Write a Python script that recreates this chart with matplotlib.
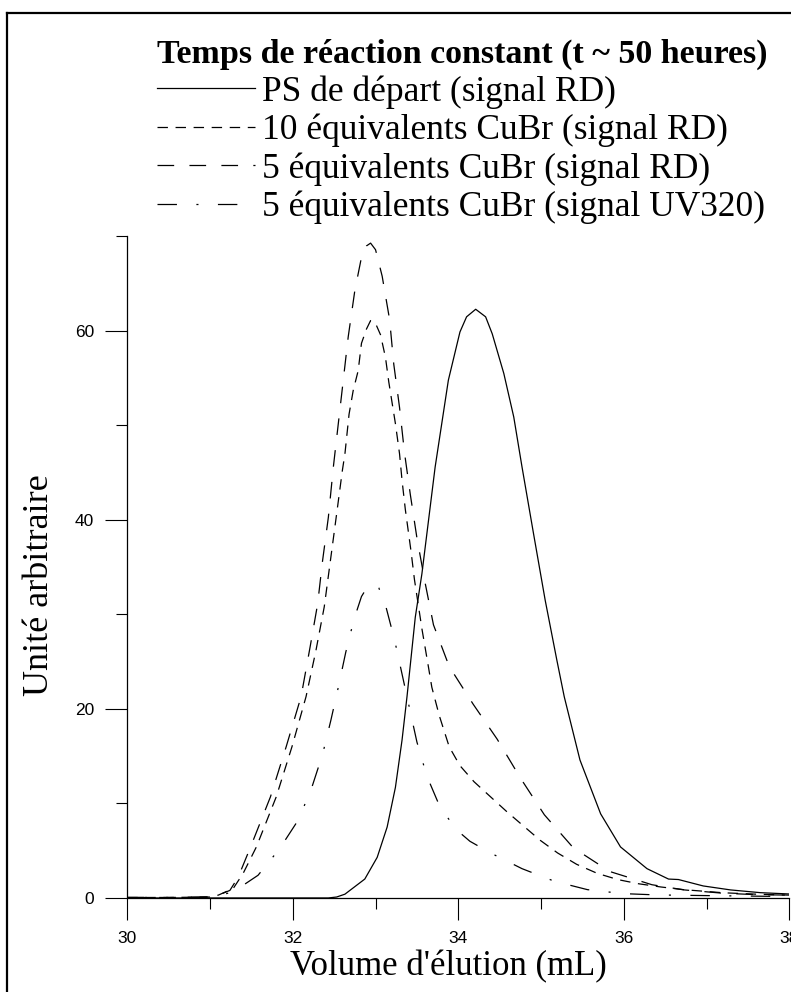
import matplotlib
matplotlib.use("Agg")
import matplotlib.pyplot as plt
from matplotlib.lines import Line2D

# volume d'elution (mL) / unite arbitraire
x_ps = [30.0, 32.0, 32.43, 32.53, 32.63, 32.87, 33.02, 33.14, 33.24, 33.32, 33.38, 33.48, 33.56,
        33.72, 33.88, 34.02, 34.10, 34.21, 34.33, 34.41, 34.55, 34.67, 34.77, 34.91, 35.05,
        35.19, 35.28, 35.47, 35.72, 35.96, 36.28, 36.54, 36.66, 36.96, 37.29, 37.65, 38.0]
y_ps = [0, 0, 0.0, 0.1, 0.4, 2.0, 4.3, 7.5, 11.7, 16.7, 21.3, 29.7, 34.3,
        45.6, 54.8, 59.9, 61.5, 62.3, 61.5, 59.7, 55.5, 50.9, 45.6, 38.5, 31.5,
        25.2, 21.3, 14.6, 8.9, 5.4, 3.1, 2.0, 1.95, 1.27, 0.85, 0.56, 0.42]

x_10eq = [30.0, 30.5, 31.0, 31.1, 31.28, 31.40, 31.56, 31.80, 31.99, 32.16, 32.28, 32.38, 32.45,
          32.52, 32.60, 32.63, 32.68, 32.73, 32.79, 32.83, 32.89, 32.94, 33.00, 33.06, 33.12,
          33.16, 33.20, 33.24, 33.29, 33.32, 33.36, 33.43, 33.47, 33.56, 33.64, 33.68, 33.77,
          33.89, 34.02, 34.19, 34.39, 34.59, 34.79, 34.99, 35.20, 35.43, 35.68, 35.93, 36.18,
          36.45, 36.72, 37.2, 37.6, 38.0]
y_10eq = [0.05, 0.05, 0.1, 0.3, 1.0, 2.6, 5.4, 10.7, 16.0, 21.3, 26.2, 30.8, 35.4,
          40.0, 45.3, 47.0, 51.2, 53.7, 55.8, 58.7, 60.2, 61.1, 60.8, 59.6, 57.2,
          54.6, 52.4, 50.2, 47.0, 44.2, 41.1, 36.6, 33.7, 28.5, 24.4, 22.3, 19.3,
          16.0, 14.0, 12.3, 10.7, 9.1, 7.6, 6.1, 4.76, 3.56, 2.6, 1.94, 1.5,
          1.16, 0.88, 0.55, 0.4, 0.3]

x_5eq = [30.0, 30.5, 31.0, 31.1, 31.24, 31.34, 31.49, 31.73, 31.92, 32.10, 32.21, 32.30, 32.36,
         32.43, 32.49, 32.55, 32.61, 32.67, 32.75, 32.83, 32.89, 32.94, 33.00, 33.08, 33.17,
         33.22, 33.29, 33.35, 33.42, 33.50, 33.60, 33.70, 33.89, 34.18, 34.47, 34.75, 35.04,
         35.39, 35.83, 36.34, 36.73, 37.2, 37.6, 38.0]
y_5eq = [0.05, 0.05, 0.1, 0.3, 0.8, 2.2, 5.4, 10.7, 16.0, 21.3, 26.6, 31.1, 35.7,
         40.3, 45.6, 50.2, 54.8, 59.4, 64.3, 67.8, 69.0, 69.3, 68.6, 65.8, 61.2,
         56.5, 51.9, 47.1, 42.7, 38.1, 33.3, 28.9, 24.5, 20.5, 16.8, 12.7, 8.8,
         5.3, 2.8, 1.4, 0.85, 0.5, 0.35, 0.3]

x_uv = [30.0, 30.5, 31.0, 31.1, 31.29, 31.58, 31.84, 32.07, 32.23, 32.36, 32.46, 32.55, 32.64,
        32.74, 32.83, 32.90, 32.97, 33.04, 33.12, 33.23, 33.32, 33.41, 33.50, 33.62, 33.78,
        33.98, 34.14, 34.39, 34.77, 35.16, 35.56, 35.99, 36.40, 37.0, 37.5, 38.0]
y_uv = [0.05, 0.05, 0.1, 0.2, 0.7, 2.4, 5.2, 8.3, 11.7, 15.2, 18.8, 22.3, 26.0,
        29.5, 31.9, 32.9, 33.2, 32.8, 31.0, 27.3, 23.7, 20.1, 16.5, 12.9, 9.6,
        7.2, 6.0, 4.76, 3.1, 1.77, 0.88, 0.46, 0.32, 0.25, 0.2, 0.15]

labels = ["PS de départ (signal RD)",
          "10 équivalents CuBr (signal RD)",
          "5 équivalents CuBr (signal RD)",
          "5 équivalents CuBr (signal UV320)"]

plt.rcParams['lines.scale_dashes'] = False
serif = ['Liberation Serif', 'DejaVu Serif']
sans = ['Liberation Sans', 'DejaVu Sans']

fig = plt.figure(figsize=(7.91, 9.92), dpi=100)
ax = fig.add_axes([0.1609, 0.0948, 0.8370, 0.6668])

lw = 0.9
ax.plot(x_ps, y_ps, color='black', lw=lw, label=labels[0])
ax.plot(x_10eq, y_10eq, color='black', lw=lw, linestyle=(0, (7.5, 5.5)), label=labels[1])
ax.plot(x_5eq, y_5eq, color='black', lw=lw, linestyle=(0, (12, 11)), label=labels[2])
ax.plot(x_uv, y_uv, color='black', lw=lw, linestyle=(0, (14, 14, 1.5, 14)), label=labels[3])

ax.set_xlim(30, 38)
ax.set_ylim(0, 70)
ax.set_xticks([30, 32, 34, 36, 38])
ax.set_xticks([31, 33, 35, 37], minor=True)
ax.set_yticks([0, 20, 40, 60])
ax.set_yticks([10, 30, 50, 70], minor=True)
for s in ['top', 'right']:
    ax.spines[s].set_visible(False)
for s in ['left', 'bottom']:
    ax.spines[s].set_linewidth(0.9)
ax.tick_params(which='major', direction='out', length=16, width=0.8, pad=8)
ax.tick_params(which='minor', direction='out', length=8, width=0.8)
for t in ax.get_xticklabels() + ax.get_yticklabels():
    t.set_family(sans)
    t.set_fontsize(12.5)

ax.set_xlabel("Volume d'élution (mL)", family=serif, fontsize=25, va='center')
ax.xaxis.set_label_coords((448 - 127.3) / 662.0, (898 - 967) / 662.0)
ax.set_ylabel("Unité arbitraire", family=serif, fontsize=26, va='center')
ax.yaxis.set_label_coords((40 - 127.3) / 662.0, (898 - 585) / 662.0)

leg = ax.legend(loc='upper left', bbox_to_anchor=(157 / 791, 1 - 39 / 992),
                bbox_transform=fig.transFigure, frameon=False,
                title="Temps de réaction constant (t ~ 50 heures)",
                prop={'family': serif, 'size': 25.5},
                title_fontproperties={'family': serif, 'size': 24.5, 'weight': 'bold'},
                handlelength=2.77, handletextpad=0.2, labelspacing=0.14,
                borderpad=0, borderaxespad=0, alignment='left')

# frame of the original figure (left and top edges only are visible)
fig.add_artist(Line2D([7 / 791, 7 / 791], [0, 1 - 13 / 992], transform=fig.transFigure,
                      color='black', lw=1.6))
fig.add_artist(Line2D([7 / 791, 1], [1 - 13 / 992, 1 - 13 / 992], transform=fig.transFigure,
                      color='black', lw=1.6))

fig.savefig("out.png", dpi=100)
